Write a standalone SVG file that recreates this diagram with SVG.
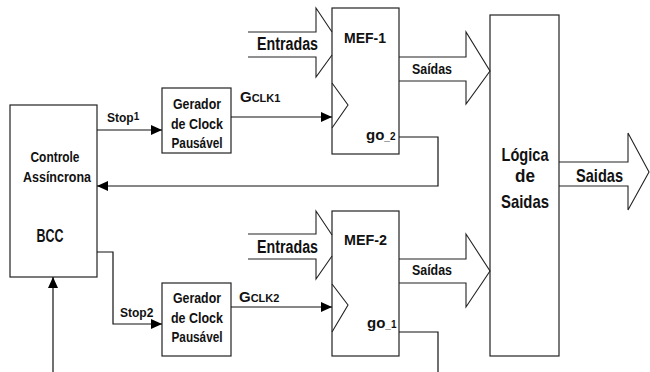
<svg xmlns="http://www.w3.org/2000/svg" width="650" height="372" viewBox="0 0 650 372">
<style>
.box{fill:#fff;stroke:#222;stroke-width:1.2}
.ln{fill:none;stroke:#111;stroke-width:1.2}
.fat{fill:none;stroke:#222;stroke-width:1.1}
text{font-family:"Liberation Sans",Arial,sans-serif;fill:#111}
.b{font-weight:bold}
</style>
<defs>
<marker id="ah" markerUnits="userSpaceOnUse" markerWidth="12" markerHeight="10" refX="11" refY="5" orient="auto">
<path d="M0,0 L11,5 L0,10 Z" fill="#000"/>
</marker>
</defs>
<rect width="650" height="372" fill="#fff"/>

<g id="bcc">
<rect class="box" x="10" y="105" width="87" height="172"/>
<text class="b" x="55" y="162" font-size="14" text-anchor="middle" textLength="49" lengthAdjust="spacingAndGlyphs">Controle</text>
<text class="b" x="57" y="182" font-size="14" text-anchor="middle" textLength="68" lengthAdjust="spacingAndGlyphs">Assíncrona</text>
<text class="b" x="50" y="242" font-size="18" text-anchor="middle" textLength="27" lengthAdjust="spacingAndGlyphs">BCC</text>
</g>

<g id="gerador1">
<rect class="box" x="162" y="88" width="69" height="65"/>
<text class="b" x="197" y="109" font-size="14" text-anchor="middle" textLength="48" lengthAdjust="spacingAndGlyphs">Gerador</text>
<text class="b" x="197" y="129" font-size="14" text-anchor="middle" textLength="52" lengthAdjust="spacingAndGlyphs">de Clock</text>
<text class="b" x="197" y="148" font-size="14" text-anchor="middle" textLength="51" lengthAdjust="spacingAndGlyphs">Pausável</text>
</g>

<g id="gerador2">
<rect class="box" x="162" y="283" width="69" height="73"/>
<text class="b" x="197" y="303" font-size="14" text-anchor="middle" textLength="48" lengthAdjust="spacingAndGlyphs">Gerador</text>
<text class="b" x="197" y="323" font-size="14" text-anchor="middle" textLength="52" lengthAdjust="spacingAndGlyphs">de Clock</text>
<text class="b" x="197" y="342" font-size="14" text-anchor="middle" textLength="51" lengthAdjust="spacingAndGlyphs">Pausável</text>
</g>

<g id="mef1">
<rect class="box" x="332" y="8" width="67" height="146"/>
<polyline class="fat" points="332,83 348,105 332,128"/>
<text class="b" x="344" y="43" font-size="15" textLength="42" lengthAdjust="spacingAndGlyphs">MEF-1</text>
<text class="b" x="366" y="140" font-size="15">go<tspan font-size="10">_2</tspan></text>
</g>

<g id="mef2">
<rect class="box" x="332" y="211" width="67" height="145"/>
<polyline class="fat" points="332,284 348,305 332,332"/>
<text class="b" x="344" y="245" font-size="15" textLength="43" lengthAdjust="spacingAndGlyphs">MEF-2</text>
<text class="b" x="367" y="328" font-size="15">go<tspan font-size="10">_1</tspan></text>
</g>

<g id="logica">
<rect class="box" x="490" y="15" width="69" height="341"/>
<text class="b" x="525" y="161" font-size="19" text-anchor="middle" textLength="47" lengthAdjust="spacingAndGlyphs">Lógica</text>
<text class="b" x="525" y="182" font-size="19" text-anchor="middle" textLength="20" lengthAdjust="spacingAndGlyphs">de</text>
<text class="b" x="525" y="208" font-size="19" text-anchor="middle" textLength="48" lengthAdjust="spacingAndGlyphs">Saidas</text>
</g>

<g id="connectors">
<polyline class="fat" points="248,32 316,32 316,8 332,32"/>
<polyline class="fat" points="248,57 316,57 316,77 332,55"/>
<text class="b" x="257" y="50" font-size="18" textLength="61" lengthAdjust="spacingAndGlyphs">Entradas</text>

<polyline class="fat" points="248,234 316,234 316,211 332,235"/>
<polyline class="fat" points="248,259 316,259 316,279 332,256"/>
<text class="b" x="257" y="253" font-size="18" textLength="61" lengthAdjust="spacingAndGlyphs">Entradas</text>

<polyline class="fat" points="399,57 466,57 466,32 490,71 466,104 466,81 399,81"/>
<text class="b" x="412" y="74" font-size="14" textLength="40" lengthAdjust="spacingAndGlyphs">Saídas</text>

<polyline class="fat" points="399,259 466,259 466,234 490,271 466,307 466,283 399,283"/>
<text class="b" x="412" y="275" font-size="14" textLength="40" lengthAdjust="spacingAndGlyphs">Saídas</text>

<polyline class="fat" points="559,162 628,162 628,133 649,172 628,210 628,186 559,186"/>
<text class="b" x="576" y="182" font-size="19" textLength="47" lengthAdjust="spacingAndGlyphs">Saidas</text>

<polyline class="ln" points="97,130 162,130" marker-end="url(#ah)"/>
<text class="b" x="107" y="122" font-size="12">Stop<tspan font-size="10" dy="-2">1</tspan></text>

<polyline class="ln" points="231,117 332,117" marker-end="url(#ah)"/>
<text class="b" x="240" y="102" font-size="15">G<tspan font-size="11">CLK1</tspan></text>

<polyline class="ln" points="399,137 438,137 438,186 97,186" marker-end="url(#ah)"/>

<polyline class="ln" points="97,252 113,252 113,324 162,324" marker-end="url(#ah)"/>
<text class="b" x="120" y="317" font-size="12">Stop<tspan>2</tspan></text>

<polyline class="ln" points="231,307 332,307" marker-end="url(#ah)"/>
<text class="b" x="239" y="302" font-size="15">G<tspan font-size="11">CLK2</tspan></text>

<polyline class="ln" points="399,332 438,332 438,372"/>
<polyline class="ln" points="53,372 53,277" marker-end="url(#ah)"/>
</g>
</svg>
